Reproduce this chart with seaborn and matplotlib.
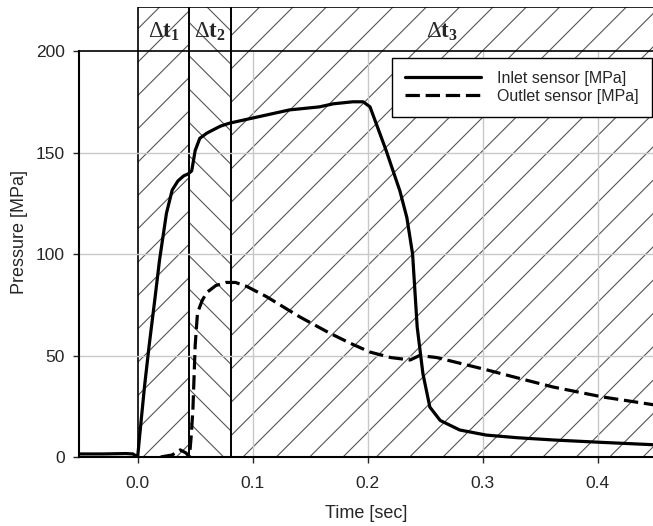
import numpy as np
import pandas as pd
import matplotlib
matplotlib.use("Agg")
import matplotlib.pyplot as plt
import seaborn as sns

# curve data
inlet_t = [-0.05, -0.03, -0.01, -0.004, -0.001, 0.0, 0.002, 0.006, 0.010, 0.015, 0.019,
           0.025, 0.030, 0.035, 0.040, 0.044, 0.047, 0.050, 0.054, 0.060, 0.065, 0.072,
           0.080, 0.100, 0.132, 0.158, 0.170, 0.187, 0.196, 0.202, 0.216, 0.228, 0.234,
           0.239, 0.243, 0.248, 0.254, 0.263, 0.280, 0.303, 0.330, 0.361, 0.400, 0.450]
inlet_p = [1.5, 1.5, 1.7, 1.5, 0.3, 0.0, 12, 35, 55, 78, 97,
           120, 131.5, 136, 138.5, 139.5, 141, 151, 157, 159.5, 161, 163,
           164.5, 167, 171, 172.5, 174, 175, 175, 172.5, 151, 131, 118,
           100, 64, 41, 24.6, 18, 13.3, 10.8, 9.5, 8.4, 7.3, 6]

outlet_t = [0.020, 0.030, 0.037, 0.042, 0.045, 0.0465, 0.048, 0.050, 0.052, 0.056, 0.060,
            0.068, 0.077, 0.085, 0.095, 0.112, 0.141, 0.167, 0.185, 0.202, 0.220, 0.237,
            0.245, 0.260, 0.303, 0.330, 0.361, 0.404, 0.450]
outlet_p = [0.0, 1.0, 3.5, 2.0, 0.0, 10, 23, 55, 71, 77, 81,
            84.5, 86, 86, 84, 79, 69, 61, 56, 51.7, 49, 47.8,
            50, 49, 43, 39, 34.5, 29.6, 25.6]

# time windows
phase_labels = ["1", "2", "3"]
phase_start = [0.0, 0.045, 0.081]
phase_end = [0.045, 0.081, 0.5]
phase_hatch = ["/", "\\", "/"]

xticks = [0.0, 0.1, 0.2, 0.3, 0.4]
yticks = [0, 50, 100, 150, 200]

df = pd.concat([
    pd.DataFrame({"t": inlet_t, "p": inlet_p, "sensor": "Inlet sensor [MPa]"}),
    pd.DataFrame({"t": outlet_t, "p": outlet_p, "sensor": "Outlet sensor [MPa]"}),
])

sns.set_style("white")
plt.rcParams["font.family"] = ["Liberation Sans", "DejaVu Sans"]
plt.rcParams["mathtext.fontset"] = "custom"
plt.rcParams["mathtext.rm"] = "Liberation Serif"
plt.rcParams["mathtext.bf"] = "Liberation Serif:bold"
plt.rcParams["hatch.linewidth"] = 0.8
plt.rcParams["hatch.color"] = "#555555"

fig = plt.figure(figsize=(6.53, 5.26), dpi=100)
ax = fig.add_axes([79 / 653, 69 / 526, 574 / 653, 450 / 526])

# hatched time windows
for lab, x0, x1, h in zip(phase_labels, phase_start, phase_end, phase_hatch):
    ax.axvspan(x0, x1, facecolor="white", edgecolor="#555555", linewidth=0,
               hatch=h, zorder=0)
    ax.axvspan(x0, x1, fill=False, edgecolor="black", linewidth=1.2, zorder=1)
    xc = (x0 + min(x1, 0.448)) / 2
    ax.text(xc, 209.5, r"$\Delta\mathbf{t}_{\mathbf{" + lab + "}}$", ha="center",
            va="center", fontsize=16.5, zorder=5)

# grid, only inside the 0-200 frame
for x in xticks[1:]:
    ax.plot([x, x], [0, 200], color="#c8c8c8", lw=1.0, zorder=1.5)
for y in yticks[1:-1]:
    ax.plot([-0.06, 0.5], [y, y], color="#c8c8c8", lw=1.0, zorder=1.5)
ax.axhline(200, color="black", lw=1.2, zorder=2)

sns.lineplot(data=df, x="t", y="p", style="sensor", color="black",
             dashes={"Inlet sensor [MPa]": "", "Outlet sensor [MPa]": (4.5, 1.8)},
             linewidth=2.3, estimator=None, sort=False, ax=ax, zorder=3)

ax.set_xlim(-0.051, 0.448)
ax.set_ylim(0, 221.7)
ax.set_xticks(xticks)
ax.set_xticklabels([f"{x:.1f}" for x in xticks])
ax.set_yticks(yticks)
ax.tick_params(axis="both", labelsize=12.5, length=4, width=1, direction="out",
               left=True, bottom=True, pad=6)
ax.tick_params(axis="x", pad=10)
ax.set_xlabel("Time [sec]", fontsize=13, labelpad=10)
ax.set_ylabel("Pressure [MPa]", fontsize=13, labelpad=6)

for s in ["top", "right"]:
    ax.spines[s].set_visible(False)
ax.spines["left"].set_bounds(0, 200)
ax.spines["left"].set_linewidth(1.5)
ax.spines["bottom"].set_linewidth(1.5)
ax.spines["left"].set_color("black")
ax.spines["bottom"].set_color("black")

leg = ax.legend(loc="upper right", bbox_to_anchor=(0.998, 0.887), borderaxespad=0,
                fontsize=11.5, handlelength=4.8, handletextpad=1.0, labelspacing=0.2,
                borderpad=0.8, frameon=True, fancybox=False, framealpha=1,
                edgecolor="black", title=None)
leg.get_frame().set_linewidth(1.0)
leg.set_zorder(6)

fig.savefig("out.png", dpi=100)
